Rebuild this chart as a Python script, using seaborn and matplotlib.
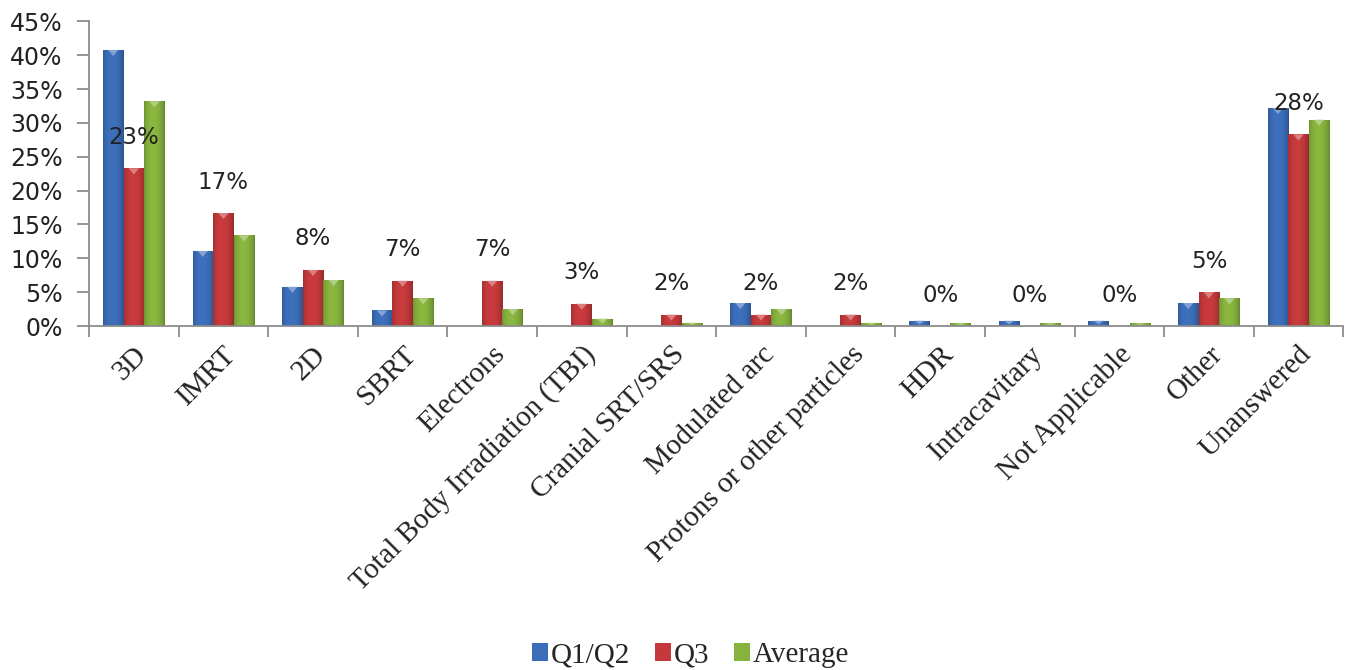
import numpy as np
import pandas as pd
import matplotlib
matplotlib.use("Agg")
import matplotlib.pyplot as plt
import matplotlib.colors as mcolors
from matplotlib.ticker import FuncFormatter, FixedLocator
from matplotlib.patches import Patch, Polygon
import seaborn as sns

categories = ["3D", "IMRT", "2D", "SBRT", "Electrons", "Total Body Irradiation (TBI)",
              "Cranial SRT/SRS", "Modulated arc", "Protons or other particles", "HDR",
              "Intracavitary", "Not Applicable", "Other", "Unanswered"]
q1q2 = [40.8, 11.1, 5.8, 2.3, 0.0, 0.0, 0.0, 3.4, 0.0, 0.8, 0.8, 0.8, 3.4, 32.2]
q3 = [23.3, 16.7, 8.3, 6.7, 6.7, 3.3, 1.7, 1.7, 1.7, 0.0, 0.0, 0.0, 5.0, 28.3]
average = [33.2, 13.4, 6.8, 4.1, 2.5, 1.1, 0.5, 2.5, 0.5, 0.4, 0.4, 0.4, 4.1, 30.5]
series = ["Q1/Q2", "Q3", "Average"]
colors = ["#3B6DB8", "#C4393B", "#86B23E"]
yticks = [0, 5, 10, 15, 20, 25, 30, 35, 40, 45]

df = pd.DataFrame({
    "category": categories * 3,
    "value": q1q2 + q3 + average,
    "series": [series[0]] * len(categories) + [series[1]] * len(categories) + [series[2]] * len(categories),
})

sns.set_theme(style="white")
plt.rcParams["font.family"] = ["DejaVu Sans"]

fig = plt.figure(figsize=(13.51, 6.70), dpi=100)
ax = fig.add_axes([0.0659, 0.5134, 0.9284, 0.4546])

sns.barplot(data=df, x="category", y="value", hue="series", order=categories,
            hue_order=series, palette=colors, width=0.69, saturation=1,
            linewidth=0, ax=ax, legend=False)

# bevelled shading and top notch on each bar
bars = [p for p in ax.patches if p.get_height() > 0]
for patch in bars:
    x0, y0 = patch.get_x(), patch.get_y()
    w, h = patch.get_width(), patch.get_height()
    base = np.array(mcolors.to_rgb(patch.get_facecolor()))
    prof = np.linspace(0, 1, 40)
    shade = 0.82 + 0.25 * np.sin(np.pi * prof) ** 0.6 - 0.08 * prof
    rgb = np.clip(base[None, :] * shade[:, None], 0, 1)
    im = ax.imshow(rgb[None, :, :], extent=[x0, x0 + w, y0, y0 + h], aspect="auto",
                   origin="lower", zorder=patch.get_zorder() + 0.1, interpolation="bilinear")
    im.set_clip_path(patch)
    top = y0 + h
    depth = min(0.9, h * 0.7)
    light = base + (1 - base) * 0.45
    tri = Polygon([[x0 + 0.25 * w, top], [x0 + 0.75 * w, top], [x0 + 0.5 * w, top - depth]],
                  closed=True, facecolor=light, edgecolor="none", alpha=0.8,
                  zorder=patch.get_zorder() + 0.2)
    ax.add_patch(tri)

ax.set_xlim(-0.5, len(categories) - 0.5)
ax.set_ylim(0, 45)
ax.set_yticks(yticks)
ax.yaxis.set_major_formatter(FuncFormatter(lambda v, _: f"{v:.0f}%"))
ax.set_xlabel("")
ax.set_ylabel("")

# Q3 value labels
ax.bar_label(ax.containers[1], labels=[f"{v:.0f}%" for v in q3], padding=14,
             fontsize=16.5, color="#222222", zorder=5)

axis_grey = "#8C8C8C"
for side in ["top", "right"]:
    ax.spines[side].set_visible(False)
for side in ["left", "bottom"]:
    ax.spines[side].set_color(axis_grey)
    ax.spines[side].set_linewidth(1.3)

ax.tick_params(axis="y", which="major", direction="out", length=8.6, width=1.3,
               color=axis_grey, labelsize=17, labelcolor="#222222", left=True, pad=10.5)
ax.xaxis.set_minor_locator(FixedLocator(np.arange(-0.5, len(categories), 1.0)))
ax.tick_params(axis="x", which="minor", direction="out", length=8, width=1.3,
               color=axis_grey, bottom=True)
ax.tick_params(axis="x", which="major", length=0, pad=11)
ax.set_xticks(range(len(categories)))
ax.set_xticklabels(categories, rotation=45, ha="right", va="top",
                   rotation_mode="anchor", family="Liberation Serif",
                   fontsize=21, color="#222222")
ax.grid(False)

handles = [Patch(facecolor=c, edgecolor="none") for c in colors]
fig.legend(handles, series, loc="center", bbox_to_anchor=(0.511, 0.022), ncol=3,
           frameon=False, prop={"family": "Liberation Serif", "size": 21},
           handlelength=0.55, handleheight=0.55, handletextpad=0.1, columnspacing=0.85)

fig.savefig("out.png", dpi=100, facecolor="white")
